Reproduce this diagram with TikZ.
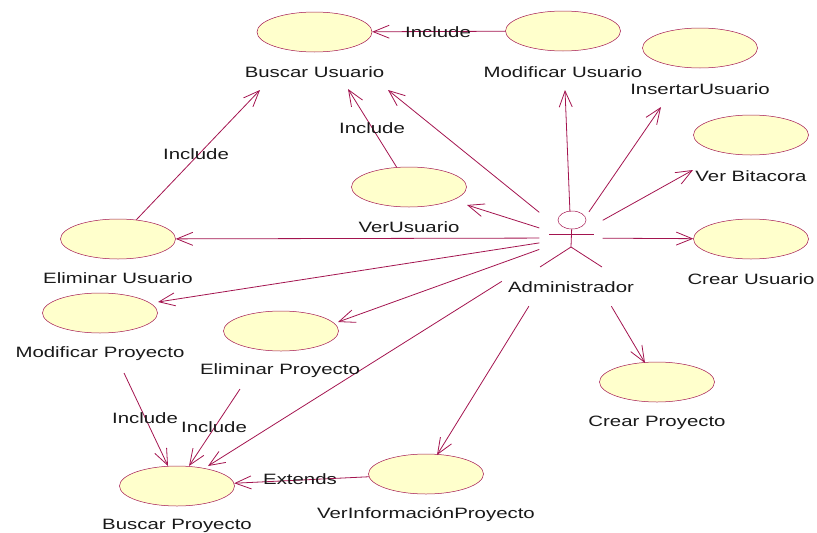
\documentclass[tikz,border=0pt]{standalone}
\usepackage{fontspec}
\setmainfont[FakeStretch=1.36]{Liberation Sans}
\usetikzlibrary{shapes.geometric,arrows.meta}
\definecolor{umlline}{HTML}{A3144F}
\definecolor{umlfill}{HTML}{FFFFCC}
\newcommand{\caseW}{115pt}
\newcommand{\caseH}{40pt}
\tikzset{
    usecase/.style={ellipse,draw=umlline,fill=umlfill,line width=0.5pt,minimum width=\caseW,minimum height=\caseH,inner sep=0pt},
    rel/.style={umlline,line width=0.8pt,-{Straight Barb[length=16pt,width=13pt]}},
    stick/.style={umlline,line width=0.8pt},
    txt/.style={inner sep=0pt,text=black!90,font=\fontsize{15}{18}\selectfont},
    hidden/.style={rectangle,inner sep=0pt}
}

\begin{document}
\begin{tikzpicture}[x=1pt,y=-1pt]
        \useasboundingbox (0,0) rectangle (817,533);

        % Use cases
        \node[usecase] (buscU) at (314.5,32) {};
        \node[usecase] (modU) at (563,31) {};
        \node[usecase] (insU) at (700,48) {};
        \node[usecase] (verB) at (751,135) {};
        \node[usecase] (verU) at (409,187) {};
        \node[usecase] (creaU) at (751,239) {};
        \node[usecase] (elimU) at (118,239) {};
        \node[usecase] (modP) at (100,313) {};
        \node[usecase] (elimP) at (281,331) {};
        \node[usecase] (creaP) at (657,382) {};
        \node[usecase] (verI) at (426,474) {};
        \node[usecase] (buscP) at (177,486) {};

        % The actor, and the two boxes its lines start from
        \node[hidden,minimum width=63pt,minimum height=52pt] (admin) at (571,238) {};
        \node[hidden,minimum width=138pt,minimum height=136pt] (adminBox) at (571,238) {};
        \node[ellipse,draw=umlline,line width=0.5pt,minimum width=28pt,minimum height=18pt,inner sep=0pt] (head) at (572,220) {};
        \coordinate (armL) at (549,234);
        \coordinate (armR) at (594,234);
        \coordinate (hip) at (571,247);
        \coordinate (legL) at (540,267);
        \coordinate (legR) at (602,267);
        \draw[stick] (head) -- (hip);
        \draw[stick] (armL) -- (armR);
        \draw[stick] (legL) -- (hip) -- (legR);

        % Where the arrows end, short of the labels
        \coordinate (tipA) at (260,90);
        \coordinate (tipB) at (348,89);
        \coordinate (tipC) at (388,90);
        \coordinate (tipD) at (565,90);
        \coordinate (tipE) at (661,107);
        \coordinate (tipF) at (693,170);
        \coordinate (tipG) at (467,205);
        \coordinate (tipH) at (645,363);
        \coordinate (tipI) at (437,455);
        \coordinate (tipJ) at (158,302);
        \coordinate (tipK) at (338,322);
        \coordinate (tipL) at (208,466);
        \coordinate (tipM) at (168,466);
        \coordinate (tipN) at (189,466);
        \coordinate (modPout) at (124,373);
        \coordinate (elimPout) at (240,389);

        % Lines from the actor
        \draw[rel] (admin) -- (tipC);
        \draw[rel] (admin) -- (tipD);
        \draw[rel] (admin) -- (tipE);
        \draw[rel] (admin) -- (tipF);
        \draw[rel] (admin) -- (tipG);
        \draw[rel] (admin) -- (creaU);
        \draw[rel] (admin) -- (elimU);
        \draw[rel] (admin) -- (tipJ);
        \draw[rel] (admin) -- (tipK);
        \draw[rel] (adminBox) -- (tipL);
        \draw[rel] (adminBox) -- (tipI);
        \draw[rel] (adminBox) -- (tipH);

        % Lines between use cases
        \draw[rel] (modU) -- (buscU);
        \draw[rel] (elimU) -- (tipA);
        \draw[rel] (verU) -- (tipB);
        \draw[rel] (modPout) -- (tipM);
        \draw[rel] (elimPout) -- (tipN);
        \draw[rel] (verI) -- (buscP);

        % Names of the use cases
        \node[txt] (buscUname) at (314.5,72) {Buscar Usuario};
        \node[txt] (modUname) at (563,72) {Modificar Usuario};
        \node[txt] (insUname) at (700,89) {InsertarUsuario};
        \node[txt] (verBname) at (751,176) {Ver Bitacora};
        \node[txt] (verUname) at (409,227) {VerUsuario};
        \node[txt] (creaUname) at (751,279) {Crear Usuario};
        \node[txt] (elimUname) at (118,278) {Eliminar Usuario};
        \node[txt] (modPname) at (100,354) {Modificar Proyecto};
        \node[txt] (elimPname) at (280,371) {Eliminar Proyecto};
        \node[txt] (creaPname) at (657,423) {Crear Proyecto};
        \node[txt] (verIname) at (426,515) {VerInformaciónProyecto};
        \node[txt] (buscPname) at (177,526) {Buscar Proyecto};
        \node[txt] (adminName) at (571,287) {Administrador};

        % Labels on the lines
        \node[txt] (incA) at (438,32) {Include};
        \node[txt] (incB) at (372,128) {Include};
        \node[txt] (incC) at (196,154) {Include};
        \node[txt] (incD) at (145,418) {Include};
        \node[txt] (incE) at (214,427) {Include};
        \node[txt] (extA) at (300,479) {Extends};
\end{tikzpicture}
\end{document}
